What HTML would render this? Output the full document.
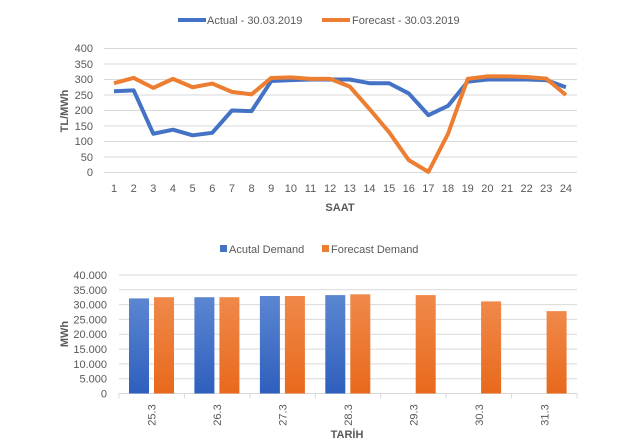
<!DOCTYPE html>
<html><head><meta charset="utf-8"><style>
body{margin:0;background:#fff;}
svg{display:block;font-family:"Liberation Sans",sans-serif;}
</style></head><body>
<svg width="627" height="446" viewBox="0 0 627 446">
<defs>
<linearGradient id="gb" x1="0" y1="0" x2="0" y2="1"><stop offset="0" stop-color="#5b86d1"/><stop offset="1" stop-color="#2f5fbd"/></linearGradient>
<linearGradient id="go" x1="0" y1="0" x2="0" y2="1"><stop offset="0" stop-color="#f0894a"/><stop offset="1" stop-color="#e8691c"/></linearGradient>
</defs>
<rect width="627" height="446" fill="#fff"/>
<line x1="178" y1="20" x2="206" y2="20" stroke="#4472c4" stroke-width="4"/>
<text x="207" y="24" font-size="11" fill="#595959">Actual - 30.03.2019</text>
<line x1="322" y1="20" x2="350" y2="20" stroke="#ed7d31" stroke-width="4"/>
<text x="352" y="24" font-size="11" fill="#595959">Forecast - 30.03.2019</text>
<g stroke="#d9d9d9" stroke-width="1">
<line x1="104" x2="577" y1="48.5" y2="48.5"/><line x1="104" x2="577" y1="64" y2="64"/>
<line x1="104" x2="577" y1="79.5" y2="79.5"/><line x1="104" x2="577" y1="95" y2="95"/>
<line x1="104" x2="577" y1="110.5" y2="110.5"/><line x1="104" x2="577" y1="126" y2="126"/>
<line x1="104" x2="577" y1="141.5" y2="141.5"/><line x1="104" x2="577" y1="157" y2="157"/>
<line x1="104" x2="577" y1="172.5" y2="172.5"/>
</g>
<g font-size="11" fill="#595959" text-anchor="end">
<text x="93" y="52">400</text><text x="93" y="68">350</text><text x="93" y="83">300</text>
<text x="93" y="99">250</text><text x="93" y="114">200</text><text x="93" y="130">150</text>
<text x="93" y="145">100</text><text x="93" y="161">50</text><text x="93" y="176">0</text>
</g>
<text transform="translate(68,111) rotate(-90)" font-size="11" font-weight="bold" fill="#595959" text-anchor="middle">TL/MWh</text>
<g font-size="11" fill="#595959" text-anchor="middle" id="xl"></g>
<text x="340" y="211" font-size="11" font-weight="bold" fill="#595959" text-anchor="middle">SAAT</text>
<polyline id="pa" fill="none" stroke="#4472c4" stroke-width="4" stroke-linejoin="round"/>
<polyline id="pf" fill="none" stroke="#ed7d31" stroke-width="4" stroke-linejoin="round"/>
<rect x="220" y="245" width="7" height="7" fill="#4472c4"/>
<text x="229" y="253" font-size="11" fill="#595959">Acutal Demand</text>
<rect x="322" y="245" width="7" height="7" fill="#ed7d31"/>
<text x="331" y="253" font-size="11" fill="#595959">Forecast Demand</text>
<g stroke="#d9d9d9" stroke-width="1">
<line x1="119" x2="577" y1="275" y2="275"/><line x1="119" x2="577" y1="289.8" y2="289.8"/>
<line x1="119" x2="577" y1="304.6" y2="304.6"/><line x1="119" x2="577" y1="319.4" y2="319.4"/>
<line x1="119" x2="577" y1="334.25" y2="334.25"/><line x1="119" x2="577" y1="349.1" y2="349.1"/>
<line x1="119" x2="577" y1="363.9" y2="363.9"/><line x1="119" x2="577" y1="378.7" y2="378.7"/>
<line x1="119" x2="577" y1="393.5" y2="393.5"/>
<line x1="119" x2="119" y1="393.5" y2="398.5"/><line x1="184.4" x2="184.4" y1="393.5" y2="398.5"/>
<line x1="249.9" x2="249.9" y1="393.5" y2="398.5"/><line x1="315.3" x2="315.3" y1="393.5" y2="398.5"/>
<line x1="380.7" x2="380.7" y1="393.5" y2="398.5"/><line x1="446.1" x2="446.1" y1="393.5" y2="398.5"/>
<line x1="511.6" x2="511.6" y1="393.5" y2="398.5"/><line x1="577" x2="577" y1="393.5" y2="398.5"/>
</g>
<g font-size="11" fill="#595959" text-anchor="end">
<text x="107" y="279">40.000</text><text x="107" y="294">35.000</text><text x="107" y="308.6">30.000</text>
<text x="107" y="323.4">25.000</text><text x="107" y="338.2">20.000</text><text x="107" y="353">15.000</text>
<text x="107" y="367.9">10.000</text><text x="107" y="382.7">5.000</text><text x="107" y="397.5">0</text>
</g>
<rect x="129" y="298.4" width="20" height="95.1" fill="url(#gb)"/>
<rect x="194.4" y="297.2" width="20" height="96.3" fill="url(#gb)"/>
<rect x="259.9" y="296" width="20" height="97.5" fill="url(#gb)"/>
<rect x="325.3" y="295.1" width="20" height="98.4" fill="url(#gb)"/>
<rect x="154" y="297.2" width="20" height="96.3" fill="url(#go)"/>
<rect x="219.4" y="297.2" width="20" height="96.3" fill="url(#go)"/>
<rect x="284.9" y="296" width="20" height="97.5" fill="url(#go)"/>
<rect x="350.3" y="294.3" width="20" height="99.2" fill="url(#go)"/>
<rect x="415.7" y="295.1" width="20" height="98.4" fill="url(#go)"/>
<rect x="481.1" y="301.4" width="20" height="92.1" fill="url(#go)"/>
<rect x="546.6" y="311.1" width="20" height="82.4" fill="url(#go)"/>
<g font-size="11" fill="#595959" text-anchor="middle">
<text transform="translate(155.7,415) rotate(-90)">25.3</text>
<text transform="translate(221.1,415) rotate(-90)">26.3</text>
<text transform="translate(286.6,415) rotate(-90)">27.3</text>
<text transform="translate(352,415) rotate(-90)">28.3</text>
<text transform="translate(417.4,415) rotate(-90)">29.3</text>
<text transform="translate(482.9,415) rotate(-90)">30.3</text>
<text transform="translate(548.3,415) rotate(-90)">31.3</text>
</g>
<text transform="translate(68,334) rotate(-90)" font-size="11" font-weight="bold" fill="#595959" text-anchor="middle">MWh</text>
<text x="347" y="438" font-size="11" font-weight="bold" fill="#595959" text-anchor="middle">TARİH</text>
<script>
var ns="http://www.w3.org/2000/svg";
var A=[262,265,125,138,120,128,200,198,295,298,300,300,300,288,288,255,185,215,293,300,300,300,298,275];
var F=[288,305,273,302,275,287,260,252,305,307,302,302,277,205,130,40,2,125,302,310,310,308,303,250];
function X(i){return 114+i*19.65;} function Y(v){return 172.5-v*124/400;}
document.getElementById('pa').setAttribute('points',A.map((v,i)=>X(i)+','+Y(v)).join(' '));
document.getElementById('pf').setAttribute('points',F.map((v,i)=>X(i)+','+Y(v)).join(' '));
var xl=document.getElementById('xl');
for(var i=0;i<24;i++){var t=document.createElementNS(ns,'text');t.setAttribute('x',X(i));t.setAttribute('y',192);t.textContent=i+1;xl.appendChild(t);}
</script>
</svg>
</body></html>
